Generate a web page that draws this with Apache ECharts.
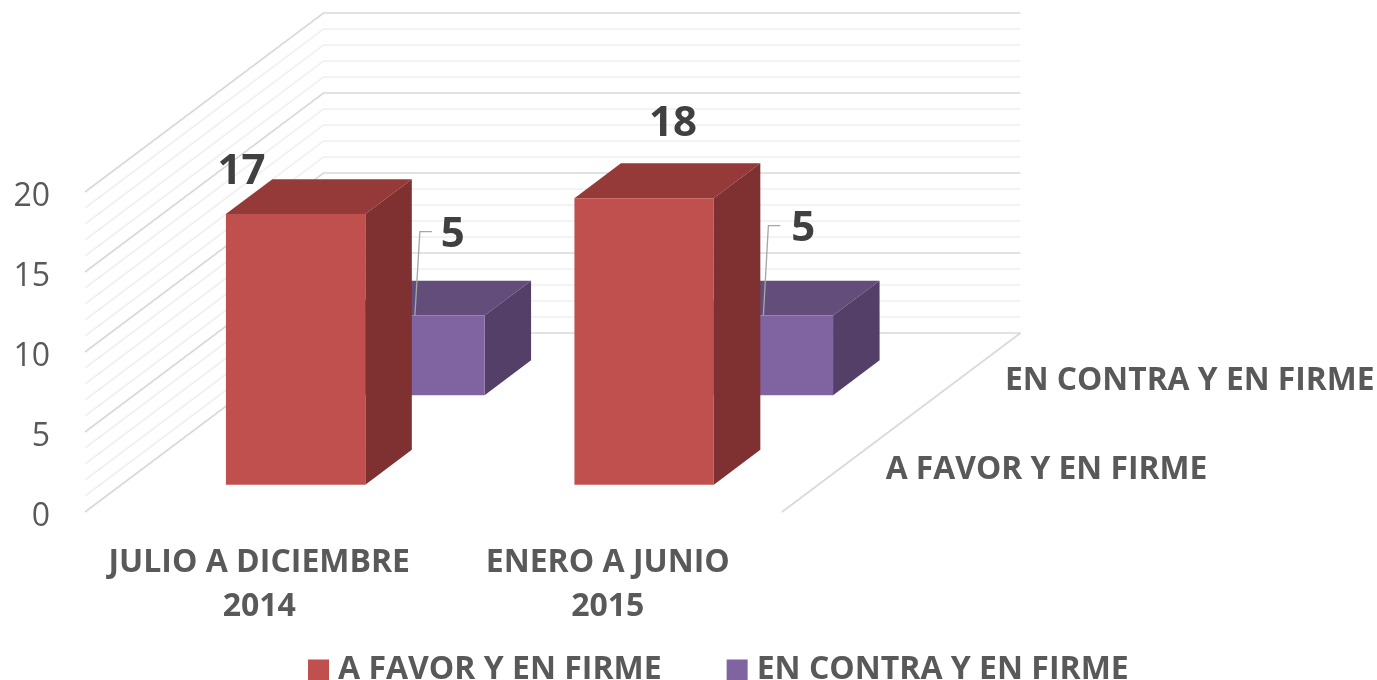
<!DOCTYPE html>
<html>
<head>
<meta charset="utf-8">
<title>chart</title>
<script src="https://cdn.jsdelivr.net/npm/echarts@6/dist/echarts.min.js"></script>
<style>
  html, body { margin: 0; padding: 0; background: #fff; }
  #chart { width: 1377px; height: 680px; }
</style>
</head>
<body>
<div id="chart"></div>
<script>
const categories = ['JULIO A DICIEMBRE\n2014', 'ENERO A JUNIO\n2015']
const seriesNames = ['A FAVOR Y EN FIRME', 'EN CONTRA Y EN FIRME']
const favorValues = [17, 18]
const contraValues = [5, 5]
const yTicks = [0, 5, 10, 15, 20]
const gridValues = [0, 1, 2, 3, 4, 5, 6, 7, 8, 9, 10, 11, 12, 13, 14, 15, 16, 17, 18, 19, 20]

// vector del piso, del frente al fondo
const DEPTH_X = 238.5
const DEPTH_Y = -179
const BAR_SCALE = 0.995
const FONT = '"Open Sans", sans-serif'

const favorColors = { front: '#C0504D', top: '#953A38', side: '#7E3130' }
const contraColors = { front: '#8064A2', top: '#634D7A', side: '#533F68' }

// etiquetas movidas a mano en el original
const favorLabelShift = [[-54, -42], [29, -74]]
const contraLabelShift = [[38, -81], [40, -87]]

function renderWall(params, api) {
  const v = api.value(1)
  const band = api.size([1, 0])[0]
  const p = api.coord([0, v])
  const x0 = p[0] - band / 2
  const x1 = x0 + DEPTH_X
  const y1 = p[1] + DEPTH_Y
  const isMajor = v % 5 === 0
  const lineStyle = { fill: null, stroke: isMajor ? '#D9D9D9' : '#F0F0F0', lineWidth: 1.6 }
  const children = [{
    type: 'polyline',
    shape: { points: [[x0, p[1]], [x1, y1], [x0 + band * 2 + DEPTH_X, y1]] },
    style: lineStyle
  }]
  if (v === 0) {
    // piso derecho y nombres de las series sobre el eje de profundidad
    const xr = x0 + band * 2
    children.push({
      type: 'line',
      shape: { x1: xr, y1: p[1], x2: xr + DEPTH_X, y2: y1 },
      style: { stroke: '#D9D9D9', lineWidth: 1.6 }
    })
    seriesNames.forEach((name, d) => {
      const frac = (d + 0.5) / 2
      children.push({
        type: 'text',
        style: {
          text: name,
          x: xr + DEPTH_X * frac + 44,
          y: p[1] + DEPTH_Y * frac + 3,
          fill: '#595959',
          fontFamily: FONT,
          fontWeight: 'bold',
          fontSize: 31.8,
          textAlign: 'left',
          textVerticalAlign: 'middle'
        }
      })
    })
  }
  return { type: 'group', children }
}

function makeBarRender(depthIndex, colors, labelShift, hasLeader) {
  return function (params, api) {
    const i = api.value(0)
    const v = api.value(1)
    const band = api.size([1, 0])[0]
    const w = band * 0.4
    const f0 = (depthIndex + 0.5) / 2 - 0.0975
    const f1 = f0 + 0.195
    const base = api.coord([i, 0])
    const top = api.coord([i, v])
    const xl = base[0] - w / 2 + DEPTH_X * f0
    const xr = xl + w
    const yb = base[1] + DEPTH_Y * f0
    const yt = yb - (base[1] - top[1]) * BAR_SCALE
    const dx = DEPTH_X * (f1 - f0)
    const dy = DEPTH_Y * (f1 - f0)
    const cx = (xl + xr) / 2
    const shift = labelShift[params.dataIndex]
    const children = [
      { type: 'polygon', shape: { points: [[xl, yt], [xr, yt], [xr + dx, yt + dy], [xl + dx, yt + dy]] }, style: { fill: colors.top } },
      { type: 'polygon', shape: { points: [[xr, yt], [xr + dx, yt + dy], [xr + dx, yb + dy], [xr, yb]] }, style: { fill: colors.side } },
      { type: 'rect', shape: { x: xl, y: yt, width: w, height: yb - yt }, style: { fill: colors.front } }
    ]
    if (hasLeader) {
      const ly = yt + shift[1] - 3
      children.push({
        type: 'polyline',
        shape: { points: [[cx, yt], [cx + 5, ly], [cx + 17, ly]] },
        style: { fill: null, stroke: '#A6A6A6', lineWidth: 1.3 }
      })
    }
    children.push({
      type: 'text',
      style: {
        text: String(v),
        x: cx + shift[0],
        y: yt + shift[1],
        fill: '#404040',
        fontFamily: FONT,
        fontWeight: 'bold',
        fontSize: 42,
        textAlign: 'center',
        textVerticalAlign: 'middle'
      }
    })
    return { type: 'group', children }
  }
}

const myChart = echarts.init(document.getElementById('chart'), null, { renderer: 'canvas' })
myChart.setOption({
  backgroundColor: '#fff',
  animation: false,
  grid: { left: 85, top: 192, width: 697, height: 320 },
  legend: {
    data: seriesNames,
    left: 303,
    top: 649,
    itemWidth: 21,
    itemHeight: 21,
    itemGap: 65,
    icon: 'rect',
    textStyle: { color: '#595959', fontFamily: FONT, fontWeight: 'bold', fontSize: 32, padding: [0, 0, 0, 4] }
  },
  xAxis: {
    type: 'category',
    data: categories,
    axisLine: { show: false },
    axisTick: { show: false },
    axisLabel: { interval: 0, margin: 29, color: '#595959', fontFamily: FONT, fontWeight: 'bold', fontSize: 32, lineHeight: 44 }
  },
  yAxis: {
    type: 'value',
    min: yTicks[0],
    max: yTicks[yTicks.length - 1],
    interval: yTicks[1] - yTicks[0],
    axisLine: { show: false },
    axisTick: { show: false },
    splitLine: { show: false },
    axisLabel: { margin: 35, color: '#595959', fontFamily: FONT, fontSize: 32, verticalAlign: 'top', lineHeight: 9 }
  },
  series: [
    {
      name: 'pared',
      type: 'custom',
      silent: true,
      renderItem: renderWall,
      encode: { x: 0, y: 1 },
      data: gridValues.map(v => [0, v])
    },
    {
      name: seriesNames[1],
      type: 'custom',
      itemStyle: { color: contraColors.front },
      renderItem: makeBarRender(1, contraColors, contraLabelShift, true),
      encode: { x: 0, y: 1 },
      data: contraValues.map((v, i) => [i, v])
    },
    {
      name: seriesNames[0],
      type: 'custom',
      itemStyle: { color: favorColors.front },
      renderItem: makeBarRender(0, favorColors, favorLabelShift, false),
      encode: { x: 0, y: 1 },
      data: favorValues.map((v, i) => [i, v])
    }
  ]
})
</script>
</body>
</html>
